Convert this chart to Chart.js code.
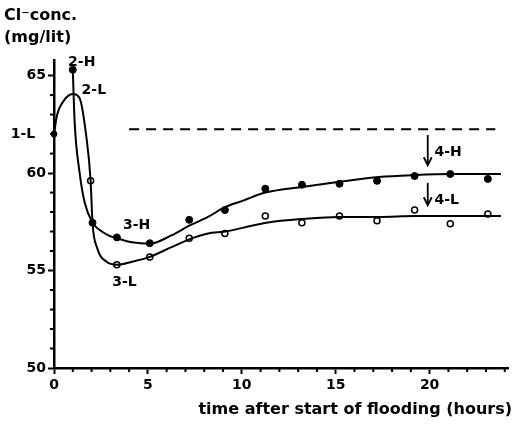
<!DOCTYPE html>
<html>
<head>
<meta charset="utf-8">
<script src="https://cdn.jsdelivr.net/npm/chart.js@4.4.1/dist/chart.umd.min.js"></script>
<style>
  body { margin: 0; background: #fff; }
  #wrap { width: 514px; height: 426px; }
</style>
</head>
<body>
<div id="wrap"><canvas id="chart" width="514" height="426"></canvas></div>
<script>
// measured points, high level (filled) and low level (open)
const hTimes  = [1.0, 2.05, 3.35, 5.1, 7.2, 9.1, 11.25, 13.2, 15.2, 17.2, 19.2, 21.1, 23.1];
const hValues = [65.3, 57.45, 56.7, 56.4, 57.6, 58.1, 59.2, 59.4, 59.45, 59.6, 59.85, 59.95, 59.7];
const lTimes  = [1.95, 3.35, 5.1, 7.2, 9.1, 11.25, 13.2, 15.2, 17.2, 19.2, 21.1, 23.1];
const lValues = [59.6, 55.3, 55.7, 56.65, 56.9, 57.8, 57.45, 57.8, 57.55, 58.1, 57.4, 57.9];
const startTime = [0];
const startValue = [62.0];

// fitted curves as drawn in the figure
const hCurveT = [1.0, 1.1, 1.36, 1.63, 2.05, 2.4, 2.9, 3.35, 4.15, 5.1, 6.25, 7.2, 8.2, 9.1, 10.1, 11.25, 13.3, 15.2, 17.3, 19.2, 21.2, 23.8];
const hCurveV = [65.3, 62.6, 60.05, 58.5, 57.45, 57.1, 56.8, 56.65, 56.45, 56.38, 56.8, 57.3, 57.75, 58.25, 58.6, 59.0, 59.3, 59.55, 59.8, 59.9, 59.95, 59.95];
const lCurveT = [0, 0.16, 0.47, 1.0, 1.36, 1.73, 1.95, 2.05, 2.3, 2.8, 3.35, 4.15, 5.1, 6.25, 7.2, 8.2, 9.1, 10.1, 11.3, 13.3, 15.2, 17.3, 19.2, 21.2, 23.8];
const lCurveV = [62.0, 62.97, 63.64, 64.05, 63.85, 61.8, 59.6, 57.45, 56.15, 55.45, 55.3, 55.45, 55.7, 56.2, 56.6, 56.9, 57.0, 57.2, 57.45, 57.65, 57.75, 57.75, 57.8, 57.8, 57.8];

// dashed reference level
const dashT = [4.0, 23.5];
const dashV = [62.25, 62.25];

// axes
const xTicks = [0, 5, 10, 15, 20];
const yTicks = [50, 55, 60, 65];
const xMinor = [1, 2, 3, 4, 6, 7, 8, 9, 11, 12, 13, 14, 16, 17, 18, 19, 21, 22, 23, 24];
const yMinor = [51, 52, 53, 54, 56, 57, 58, 59, 61, 62, 63, 64];

// curve labels (placed in data units)
const labelText = ['1-L', '2-H', '2-L', '3-H', '3-L', '4-H', '4-L'];
const labelT    = [-1.0, 0.75, 1.47, 3.67, 3.1, 20.26, 20.26];
const labelV    = [62.0, 65.7, 64.25, 57.33, 54.4, 61.08, 58.6];
const labelAlign = ['right', 'left', 'left', 'left', 'left', 'left', 'left'];

// arrows above the 4-H / 4-L plateaus
const arrowT    = [19.9, 19.9];
const arrowFrom = [61.95, 59.5];
const arrowTo   = [60.4, 58.35];

const pts = (xs, ys) => xs.map((x, i) => ({ x: x, y: ys[i] }));
const FONT = '"DejaVu Sans", sans-serif';

const extras = {
    id: 'extras',
    afterDraw(chart) {
        const ctx = chart.ctx;
        const xs = chart.scales.x, ys = chart.scales.y;
        ctx.save();
        ctx.strokeStyle = '#000';
        ctx.fillStyle = '#000';
        ctx.lineWidth = 2;
        // minor ticks
        const bottom = ys.getPixelForValue(50);
        const left = xs.getPixelForValue(0);
        xMinor.forEach(v => {
            const px = xs.getPixelForValue(v);
            ctx.beginPath(); ctx.moveTo(px, bottom); ctx.lineTo(px, bottom + 4); ctx.stroke();
        });
        yMinor.forEach(v => {
            const py = ys.getPixelForValue(v);
            ctx.beginPath(); ctx.moveTo(left, py); ctx.lineTo(left - 4, py); ctx.stroke();
        });
        // arrows
        arrowT.forEach((t, i) => {
            const px = xs.getPixelForValue(t);
            const y1 = ys.getPixelForValue(arrowFrom[i]);
            const y2 = ys.getPixelForValue(arrowTo[i]);
            ctx.lineWidth = 1.8;
            ctx.beginPath(); ctx.moveTo(px, y1); ctx.lineTo(px, y2 - 2); ctx.stroke();
            ctx.beginPath(); ctx.moveTo(px - 4, y2 - 8); ctx.lineTo(px, y2); ctx.lineTo(px + 4, y2 - 8); ctx.stroke();
        });
        // labels
        ctx.font = 'bold 14px ' + FONT;
        ctx.textBaseline = 'middle';
        labelText.forEach((s, i) => {
            ctx.textAlign = labelAlign[i];
            ctx.fillText(s, xs.getPixelForValue(labelT[i]), ys.getPixelForValue(labelV[i]));
        });
        // axis titles
        ctx.font = 'bold 16px ' + FONT;
        ctx.textAlign = 'left';
        ctx.textBaseline = 'alphabetic';
        ctx.fillText('Cl\u207Bconc.', 4, 20);
        ctx.fillText('(mg/lit)', 4, 42);
        ctx.textAlign = 'right';
        ctx.fillText('time after start of flooding (hours)', 512, 414);
        ctx.restore();
    }
};

const ctx = document.getElementById('chart').getContext('2d');
const chart = new Chart(ctx, {
    type: 'scatter',
    data: {
        datasets: [
            { data: pts(dashT, dashV), showLine: true, borderColor: '#000', borderWidth: 2, borderDash: [10, 7], pointRadius: 0 },
            { data: pts(hCurveT, hCurveV), showLine: true, borderColor: '#000', borderWidth: 2, cubicInterpolationMode: 'monotone', pointRadius: 0, clip: false },
            { data: pts(lCurveT, lCurveV), showLine: true, borderColor: '#000', borderWidth: 2, cubicInterpolationMode: 'monotone', pointRadius: 0, clip: false },
            { data: pts(hTimes, hValues), pointRadius: 3.5, backgroundColor: '#000', borderColor: '#000', borderWidth: 1, clip: false },
            { data: pts(lTimes, lValues), pointRadius: 3, backgroundColor: '#fff', borderColor: '#000', borderWidth: 1.5, clip: false },
            { data: pts(startTime, startValue), pointRadius: 3, backgroundColor: '#000', borderColor: '#000', borderWidth: 1, clip: false }
        ]
    },
    options: {
        responsive: false,
        animation: false,
        layout: { padding: { top: 60, right: 2, left: 0, bottom: 0 } },
        plugins: { legend: { display: false }, tooltip: { enabled: false } },
        scales: {
            x: {
                type: 'linear', min: 0, max: 24.2,
                afterBuildTicks: s => { s.ticks = xTicks.map(v => ({ value: v })); },
                afterFit: s => { s.height = 58; },
                border: { color: '#000', width: 2.5 },
                grid: { drawOnChartArea: false, color: '#000', tickLength: 6, tickWidth: 2 },
                ticks: { color: '#000', font: { family: FONT, size: 14, weight: 'bold' }, padding: 3, maxRotation: 0 }
            },
            y: {
                type: 'linear', min: 50, max: 65.8,
                afterBuildTicks: s => { s.ticks = yTicks.map(v => ({ value: v })); },
                afterFit: s => { s.width = 54; },
                border: { color: '#000', width: 2.5 },
                grid: { drawOnChartArea: false, color: '#000', tickLength: 6, tickWidth: 2 },
                ticks: { color: '#000', font: { family: FONT, size: 14, weight: 'bold' }, padding: 2 }
            }
        }
    },
    plugins: [extras]
});
</script>
</body>
</html>
